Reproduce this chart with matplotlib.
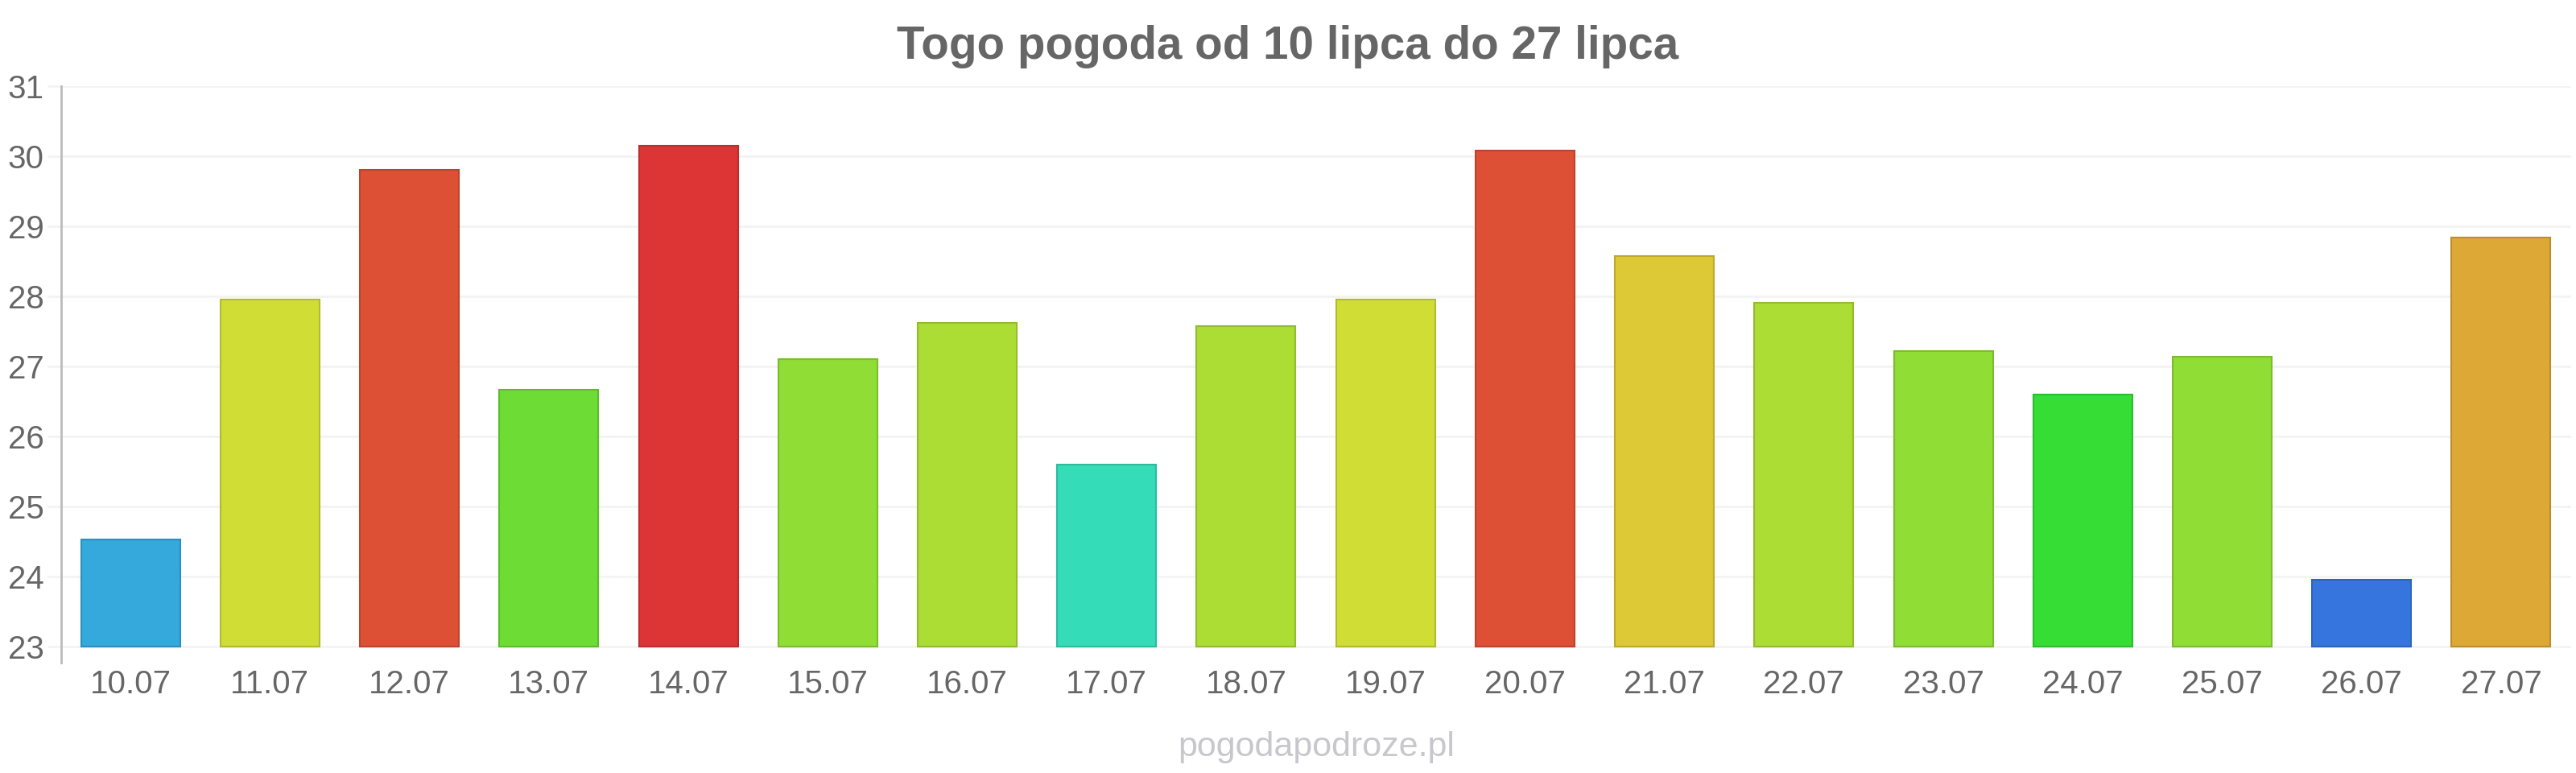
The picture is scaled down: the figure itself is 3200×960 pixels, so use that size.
import matplotlib
matplotlib.use("Agg")
import matplotlib.pyplot as plt
from matplotlib import font_manager as fm
import numpy as np

dates = ["10.07", "11.07", "12.07", "13.07", "14.07", "15.07", "16.07", "17.07", "18.07",
         "19.07", "20.07", "21.07", "22.07", "23.07", "24.07", "25.07", "26.07", "27.07"]
temps = [24.53, 27.95, 29.8, 26.67, 30.15, 27.1, 27.62, 25.6, 27.57,
         27.95, 30.08, 28.57, 27.9, 27.22, 26.6, 27.14, 23.95, 28.84]
colors = ["#35a8dc", "#cfdd35", "#dd5035", "#6ddd35", "#dd3535", "#8fdd35", "#acdd35",
          "#35dcb8", "#acdd35", "#cfdd35", "#dd5035", "#ddc835", "#acdd35", "#8fdd35",
          "#35dd35", "#8fdd35", "#3575dd", "#dda835"]
yticks = [23, 24, 25, 26, 27, 28, 29, 30, 31]
title = "Togo pogoda od 10 lipca do 27 lipca"
watermark = "pogodapodroze.pl"

names = {f.name for f in fm.fontManager.ttflist}
fam = "Liberation Sans Narrow" if "Liberation Sans Narrow" in names else "Liberation Sans"
plt.rcParams["font.family"] = [fam, "DejaVu Sans"]

def darker(c, f=0.85):
    r, g, b = matplotlib.colors.to_rgb(c)
    return (r * f, g * f, b * f)

fig = plt.figure(figsize=(32, 9.6), dpi=100)
ax = fig.add_axes([0.0236, 0.1426, 0.9744, 0.7464])
x = np.arange(len(dates))
base = 23
ax.bar(x, [t - base for t in temps], bottom=base, width=0.71, color=colors,
       edgecolor=[darker(c) for c in colors], linewidth=1.5, zorder=3)

ax.set_xlim(-0.5, len(dates) - 0.5)
ax.set_ylim(22.77, 31)
ax.set_yticks(yticks)
ax.set_yticklabels([str(v) for v in yticks])
ax.set_xticks(x)
ax.set_xticklabels(dates)
for v in yticks:
    ax.axhline(v, color="#f3f3f3", linewidth=2, zorder=1)

for s in ["top", "right", "bottom"]:
    ax.spines[s].set_visible(False)
ax.spines["left"].set_color("#bbbbbb")
ax.spines["left"].set_linewidth(2)
ax.tick_params(axis="y", length=12, width=2, color="#f3f3f3", labelsize=29,
               labelcolor="#666666", pad=3)
ax.tick_params(axis="x", length=0, labelsize=29, labelcolor="#666666", pad=6)

fig.text(0.5, 0.940, title, ha="center", va="center", fontsize=40.7, fontweight="bold",
         color="#666666")
fig.text(0.511, 0.033, watermark, ha="center", va="center", fontsize=31, color="#c8c8cc")

fig.savefig("out.png", dpi=100, facecolor="white")
